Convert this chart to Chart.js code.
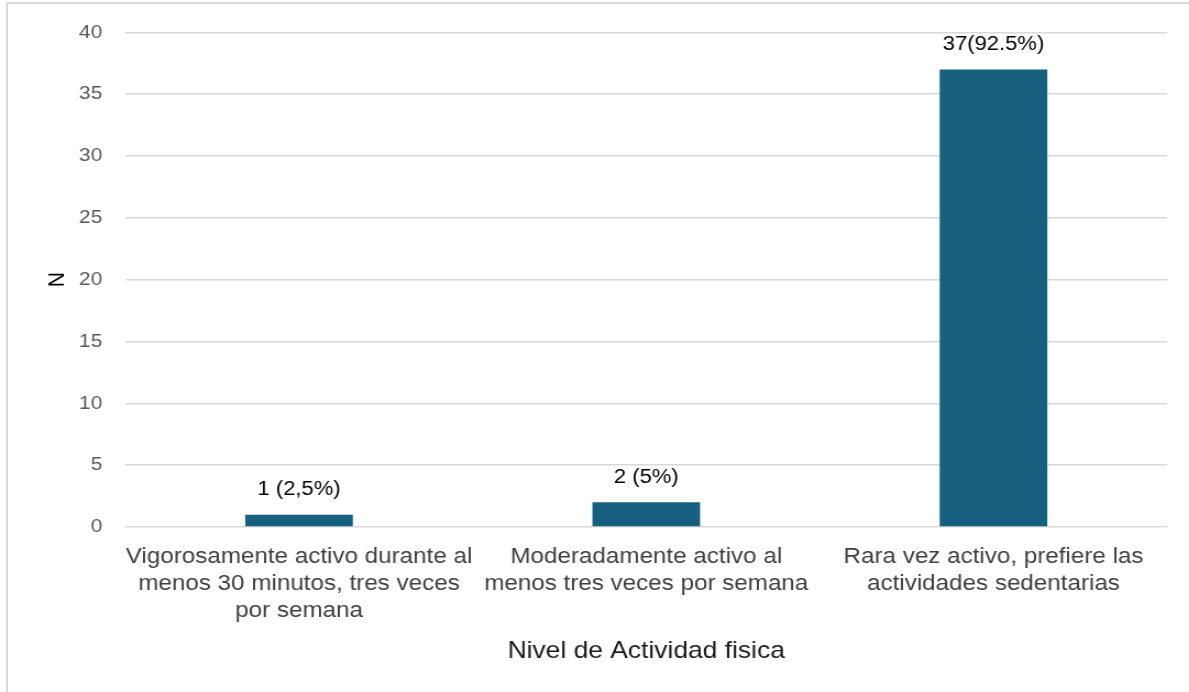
<!DOCTYPE html>
<html>
<head>
<meta charset="utf-8">
<script src="https://cdn.jsdelivr.net/npm/chart.js@4.4.1/dist/chart.umd.min.js"></script>
<style>
  html, body { margin: 0; padding: 0; background: #fff; }
  #wrap { position: relative; width: 1189px; height: 692px; overflow: hidden; }
  /* the reference picture is stretched a bit horizontally */
  #stretch { position: absolute; left: 0; top: 0; width: 1081px; height: 692px;
             transform: scaleX(1.1); transform-origin: 0 0; }
  #frame { position: absolute; left: 6px; top: 2px; width: 1300px; height: 800px;
           border-left: 2px solid #d9d9d9; border-top: 2px solid #d9d9d9; pointer-events: none; }
</style>
</head>
<body>
<div id="wrap">
  <div id="stretch"><canvas id="chart" width="1081" height="692"></canvas></div>
  <div id="frame"></div>
</div>
<script>
const categories = [
  ["Vigorosamente activo durante al", "menos 30 minutos, tres veces", "por semana"],
  ["Moderadamente activo al", "menos tres veces por semana"],
  ["Rara vez activo, prefiere las", "actividades sedentarias"]
];
const counts = [1, 2, 37];
const barLabels = ["1 (2,5%)", "2 (5%)", "37(92.5%)"];

const FONT = "'Liberation Sans', Arial, sans-serif";

// draws the "n (x%)" text above each bar
const barLabelPlugin = {
  id: "barLabels",
  afterDatasetsDraw(chart) {
    const ctx = chart.ctx;
    const meta = chart.getDatasetMeta(0);
    ctx.save();
    ctx.font = "20px " + FONT;
    ctx.fillStyle = "#000";
    ctx.textAlign = "center";
    ctx.textBaseline = "middle";
    meta.data.forEach((bar, i) => {
      ctx.fillText(barLabels[i], bar.x, bar.y - 25);
    });
    ctx.restore();
  }
};

const ctx = document.getElementById("chart").getContext("2d");
new Chart(ctx, {
  type: "bar",
  data: {
    labels: categories,
    datasets: [{
      data: counts,
      backgroundColor: "#17607f",
      categoryPercentage: 1,
      barPercentage: 0.31
    }]
  },
  options: {
    responsive: false,
    animation: false,
    layout: { padding: { top: 32, right: 20, left: 0, bottom: 0 } },
    plugins: {
      legend: { display: false },
      tooltip: { enabled: false }
    },
    scales: {
      x: {
        grid: { display: false, drawTicks: false },
        border: { display: false },
        ticks: {
          color: "#404040",
          font: { family: FONT, size: 22, lineHeight: 1.23 },
          padding: 16,
          maxRotation: 0,
          autoSkip: false
        },
        title: {
          display: true,
          text: "Nivel de Actividad fisica",
          color: "#1a1a1a",
          font: { family: FONT, size: 24 },
          padding: { top: 0, bottom: 26 }
        },
        afterFit(s) { s.height = 165; }
      },
      y: {
        min: 0,
        max: 40,
        grid: { color: "#d9d9d9", lineWidth: 1.5, drawTicks: false },
        border: { display: false },
        ticks: {
          stepSize: 5,
          color: "#595959",
          font: { family: FONT, size: 19 },
          padding: 21
        },
        title: {
          display: true,
          text: "N",
          color: "#000",
          font: { family: FONT, size: 21 },
          padding: { top: 40, bottom: 0 }
        },
        afterFit(s) { s.width = 114; }
      }
    }
  },
  plugins: [barLabelPlugin]
});
</script>
</body>
</html>
